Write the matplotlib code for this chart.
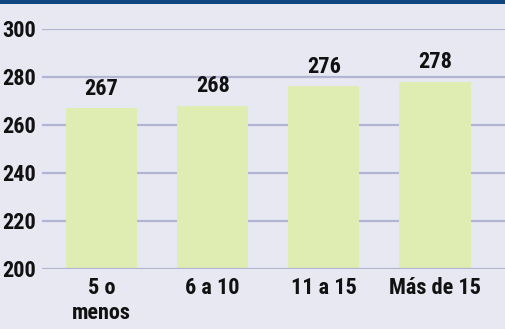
import matplotlib.pyplot as plt
from matplotlib.patches import Rectangle

categories = ['5 o\nmenos', '6 a 10', '11 a 15', 'Más de 15']
scores = [267, 268, 276, 278]
yticks = [200, 220, 240, 260, 280, 300]

plt.rcParams['font.family'] = ['Roboto Condensed', 'Barlow Condensed', 'DejaVu Sans']
plt.rcParams['font.weight'] = 'bold'

bg = '#e8e8f2'
fs = 16
fig = plt.figure(figsize=(5.05, 3.29), dpi=100, facecolor=bg)
ax = fig.add_axes([42 / 505, (329 - 268.7) / 329, 1 - 42 / 505, (268.7 - 28.7) / 329])
ax.set_facecolor(bg)

# dark band along the top edge
fig.patches.append(Rectangle((0, 1 - 3.5 / 329), 1, 3.5 / 329, transform=fig.transFigure,
                             facecolor='#0f4680', edgecolor='none'))

x = range(len(categories))
ax.bar(x, [s - 200 for s in scores], bottom=200, width=0.64,
       color='#dfecb2', zorder=1)

for xi, s in zip(x, scores):
    ax.text(xi, s + 3.5, str(s), ha='center', va='bottom', fontsize=fs, color='#111111')

ax.set_ylim(200, 300)
ax.set_xlim(-0.535, 3.63)
ax.set_yticks(yticks)
ax.set_yticklabels([str(t) for t in yticks], fontsize=fs, color='#111111')
ax.set_xticks(list(x))
ax.set_xticklabels(categories, fontsize=fs, color='#111111', linespacing=1.2)
ax.tick_params(axis='both', length=0)
ax.tick_params(axis='y', pad=4)
ax.tick_params(axis='x', pad=6)

for t in yticks:
    ax.axhline(t, color='#b2b5d2', linewidth=1.6, zorder=2 if t == 200 else 0)

for side in ax.spines.values():
    side.set_visible(False)

fig.savefig('out.png', dpi=100, facecolor=bg)
